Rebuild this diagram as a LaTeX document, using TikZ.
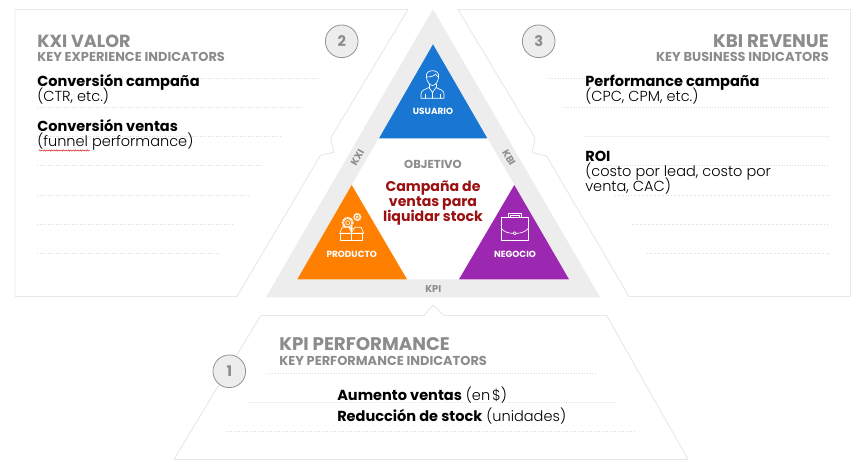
\documentclass[tikz,border=0pt]{standalone}
\usepackage{fontspec}
\setmainfont{Poppins Light}[BoldFont={Poppins Bold}]
\usetikzlibrary{decorations.pathmorphing}
\definecolor{panelline}{HTML}{E8E8E8}
\definecolor{band}{HTML}{EDEDED}
\definecolor{heading}{HTML}{8C8C8C}
\definecolor{usr}{HTML}{1976D2}
\definecolor{prd}{HTML}{FF8000}
\definecolor{neg}{HTML}{9C27B0}
\definecolor{obj}{HTML}{9B1111}
\definecolor{dotc}{HTML}{DDDDDD}
\tikzset{
 panel/.style={draw=panelline,line width=0.7pt,fill=white,line join=round},
 dotline/.style={draw=dotc,line width=0.6pt,dash pattern=on 0.8pt off 1.2pt},
 numc/.style={circle,draw=gray!85,fill=band,line width=0.6pt,minimum size=24.5pt,inner sep=0pt,text=heading,font=\bfseries\fontsize{11}{11}\selectfont},
 htitle/.style={inner sep=0pt,text=heading,font=\bfseries\fontsize{13.2}{13.2}\selectfont},
 htitlewide/.style={inner sep=0pt,text=heading,font=\bfseries\fontsize{13.7}{13.7}\selectfont},
 hsub/.style={inner sep=0pt,text=heading,font=\bfseries\fontsize{9.7}{9.7}\selectfont},
 item/.style={inner sep=0pt,text=black,font=\fontsize{10.9}{11.25}\selectfont},
 tri/.style={inner sep=0pt,anchor=base,text=white,font=\bfseries\fontsize{6.7}{6.7}\selectfont},
 blabel/.style={inner sep=0pt,text=heading,font=\bfseries\fontsize{7.4}{7.4}\selectfont},
 ico/.style={draw=white,line width=0.5pt,line join=round,line cap=round},
 squiggle/.style={draw=red!80!black,line width=0.3pt,decorate,decoration={zigzag,amplitude=0.5pt,segment length=1.8pt}},
}
\begin{document}
\begin{tikzpicture}[x=0.75pt,y=-0.75pt]
\useasboundingbox (0,0) rectangle (863,475);
% panels
\path[panel] (15,9.5) -- (408,9.5) -- (330.7,138) -- (334,152.5) -- (320.7,155) -- (237,296.5) -- (15,296.5) -- cycle;
\path[panel] (458,9.5) -- (850.5,9.5) -- (850.5,296.5) -- (629,296.5) -- (546.5,156) -- (532.3,152.5) -- (535,138) -- cycle;
\path[panel] (174,459.3) -- (260.7,315.5) -- (424,315.5) -- (433,305) -- (444,315.5) -- (606.7,315.5) -- (688,459.3) -- cycle;
% dotted lines left
\draw[dotline] (37,78) -- (318,78);
\draw[dotline] (37,107.3) -- (302,107.3);
\draw[dotline] (37,136) -- (280,136);
\draw[dotline] (37,165.7) -- (262,165.7);
\draw[dotline] (37,195.3) -- (250,195.3);
\draw[dotline] (37,224.3) -- (233,224.3);
\draw[dotline] (37,253.7) -- (219,253.7);
% dotted lines right
\draw[dotline] (547,78) -- (829,78);
\draw[dotline] (563,107.3) -- (829,107.3);
\draw[dotline] (585,136) -- (829,136);
\draw[dotline] (603,165.7) -- (829,165.7);
\draw[dotline] (615,195.3) -- (829,195.3);
\draw[dotline] (632,224.3) -- (829,224.3);
\draw[dotline] (647,253.7) -- (829,253.7);
% dotted lines bottom
\draw[dotline] (267,373) -- (597,373);
\draw[dotline] (249,402.5) -- (617,402.5);
\draw[dotline] (226,431.5) -- (635,431.5);
% central triangle
\fill[band] (433,9) -- (600,297.3) -- (266,297.3) -- cycle;
\fill[white] (433,44.3) -- (569,279.3) -- (297.3,279.3) -- cycle;
\fill[usr] (433,44.3) -- (487.3,138.3) -- (379,138.3) -- cycle;
\fill[prd] (351.7,185) -- (407,279.3) -- (297.3,279.3) -- cycle;
\fill[neg] (514.3,185) -- (569,279.3) -- (459,279.3) -- cycle;
% user icon
\begin{scope}[shift={(432.5,80)}]
\draw[ico] (-6,-3) .. controls (-7,-7) and (-4,-9.3) .. (0,-9.3) .. controls (4,-9.3) and (7,-7) .. (6,-3) .. controls (6,1) and (3,5.5) .. (0,5.5) .. controls (-3,5.5) and (-6,1) .. (-6,-3) -- cycle;
\draw[ico] (-6,-3) .. controls (-2,-3) and (2,-4) .. (3,-6) .. controls (4,-4) and (5,-3) .. (6,-3);
\draw[ico] (-11.5,18.3) -- (-11.5,14) .. controls (-11.5,10) and (-7,9.5) .. (-3.5,7.5) -- (0,12.5) -- (3.5,7.5) .. controls (7,9.5) and (11.5,10) .. (11.5,14) -- (11.5,18.3) -- cycle;
\draw[ico] (-3.5,4) -- (-3.5,7.5) (3.5,4) -- (3.5,7.5) (0,12.5) -- (0,18.3);
\draw[ico] (-7.5,14) -- (-7.5,18.3) (7.5,14) -- (7.5,18.3);
\end{scope}
% product icon
\begin{scope}[shift={(351.7,233.3)}]
\draw[ico] (-4,-10.6) circle[radius=4.2];
\draw[ico] (-4,-10.6) circle[radius=2];
\draw[ico,dash pattern=on 1pt off 1pt,line width=0.9pt] (-4,-10.6) circle[radius=5.4];
\draw[ico] (5.6,-16.3) circle[radius=2.8];
\draw[ico] (5.6,-16.3) circle[radius=1.2];
\draw[ico,dash pattern=on 0.8pt off 0.8pt,line width=0.7pt] (5.6,-16.3) circle[radius=3.6];
\draw[ico,fill=prd] (-12,0) -- (-9.5,-6) -- (-3,-6) -- (0,-1) -- (3,-6) -- (9.5,-6) -- (12,0) -- cycle;
\draw[ico,fill=prd] (-11,0) rectangle (11,7.4);
\draw[ico] (0,-6) -- (0,7.4);
\draw[ico] (-1.5,-4) -- (0,-6) -- (1.5,-4);
\end{scope}
% briefcase icon
\begin{scope}[shift={(514.7,233.3)}]
\draw[ico] (-13.7,-15.6) rectangle (13.7,7.4);
\draw[ico] (-13.7,-5) .. controls (-10,-1) and (-6,0) .. (-1.6,0) (1.6,0) .. controls (6,0) and (10,-1) .. (13.7,-5);
\draw[ico] (0,0) circle[radius=1.6];
\draw[ico] (-6.4,-15.6) -- (-6.4,-20) -- (6.4,-20) -- (6.4,-15.6);
\draw[ico] (-4.8,-15.6) -- (-4.8,-18) -- (4.8,-18) -- (4.8,-15.6);
\end{scope}
% triangle labels
\node[tri] (usuario) at (433,114.7) {USUARIO};
\node[tri] (producto) at (351.7,257) {PRODUCTO};
\node[tri] (negocio) at (515,257) {NEGOCIO};
% band labels
\node[blabel,rotate=60] (kxi) at (357.3,157.7) {KXI};
\node[blabel,rotate=-60] (kbi) at (509,157.7) {KBI};
\node[blabel,anchor=base] (kpi) at (433.3,292.3) {KPI};
% objective
\node[inner sep=0pt,anchor=base,text=heading,font=\bfseries\fontsize{8.7}{8.7}\selectfont] (objetivo) at (433,168.3) {OBJETIVO};
\node[inner sep=0pt,anchor=base,text=obj,font=\bfseries\fontsize{10.6}{10.6}\selectfont] (c1) at (433,191.7) {Campaña de};
\node[inner sep=0pt,anchor=base,text=obj,font=\bfseries\fontsize{10.6}{10.6}\selectfont] (c2) at (433,206.7) {ventas para};
\node[inner sep=0pt,anchor=base,text=obj,font=\bfseries\fontsize{10.6}{10.6}\selectfont] (c3) at (433,221.7) {liquidar stock};
% numbers
\node[numc] (n2) at (341.7,41.3) {2};
\node[numc] (n3) at (538.7,41.3) {3};
\node[numc] (n1) at (229.3,371.3) {1};
% left panel
\node[htitle,anchor=base west] (t1) at (37,47.3) {KXI VALOR};
\node[hsub,anchor=base west] (s1) at (37,61.7) {KEY EXPERIENCE INDICATORS};
\node[item,anchor=base west] (l1a) at (37,86) {\textbf{Conversión campaña}};
\node[item,anchor=base west] (l1b) at (37,101) {(CTR, etc.)};
\node[item,anchor=base west] (l2a) at (37,131) {\textbf{Conversión ventas}};
\node[item,anchor=base west] (l2b) at (37,146) {(funnel performance)};
\draw[squiggle] (39,150.5) -- (90,150.5);
% right panel
\node[htitlewide,anchor=base east] (t2) at (829,47.3) {KBI REVENUE};
\node[hsub,anchor=base east] (s2) at (829,61.7) {KEY BUSINESS INDICATORS};
\node[item,anchor=base west] (r1a) at (585,86) {\textbf{Performance campaña}};
\node[item,anchor=base west] (r1b) at (585,101) {(CPC, CPM, etc.)};
\node[item,anchor=base west] (r2a) at (585,161) {\textbf{ROI}};
\node[item,anchor=base west] (r2b) at (585,176) {(costo por lead, costo por};
\node[item,anchor=base west] (r2c) at (585,191) {venta, CAC)};
% bottom panel
\node[htitlewide,anchor=base west] (t3) at (279,350.7) {KPI PERFORMANCE};
\node[hsub,anchor=base west] (s3) at (279,365.3) {KEY PERFORMANCE INDICATORS};
\node[item,anchor=base west] (b1) at (337,400) {\textbf{Aumento ventas} (en\kern1.5pt\$)};
\node[item,anchor=base west] (b2) at (337,421.7) {\textbf{Reducción de stock} (unidades)};
\end{tikzpicture}
\end{document}
